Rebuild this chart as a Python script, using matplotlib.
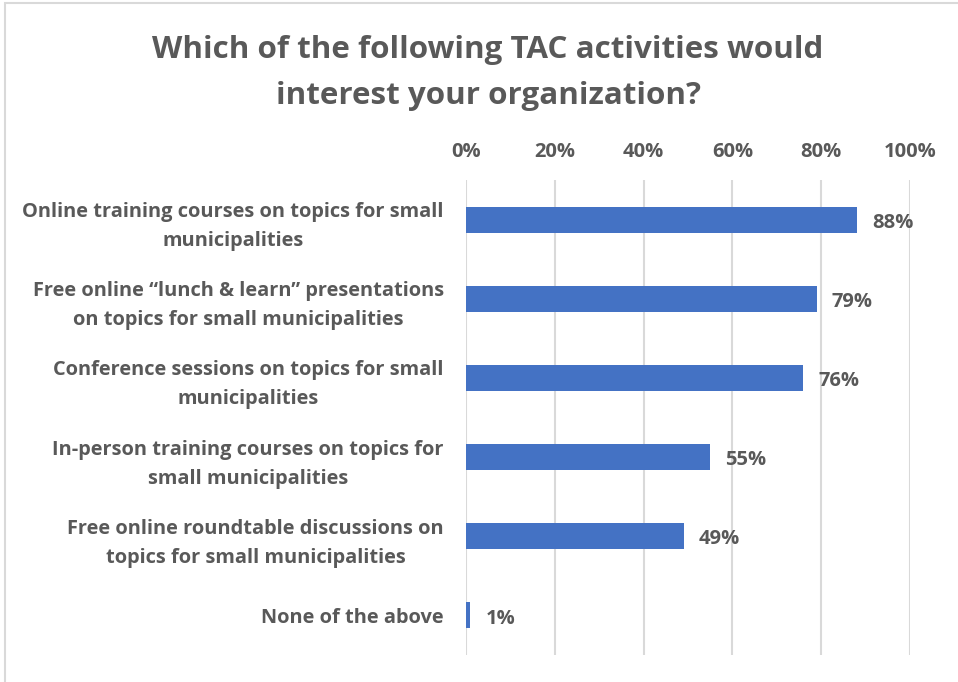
import matplotlib
matplotlib.use('Agg')
import matplotlib.pyplot as plt
from matplotlib.patches import Rectangle

categories = [
    "Online training courses on topics for small\nmunicipalities",
    "Free online \u201clunch & learn\u201d presentations\non topics for small municipalities",
    "Conference sessions on topics for small\nmunicipalities",
    "In-person training courses on topics for\nsmall municipalities",
    "Free online roundtable discussions on\ntopics for small municipalities",
    "None of the above",
]
values = [88, 79, 76, 55, 49, 1]
ticks = [0, 20, 40, 60, 80, 100]
tick_labels = ["0%", "20%", "40%", "60%", "80%", "100%"]

TXT = '#595959'
BAR = '#4472C4'
GRID = '#D9D9D9'

plt.rcParams['font.family'] = ['Open Sans', 'DejaVu Sans']

W, H = 958, 682
fig = plt.figure(figsize=(W / 100, H / 100), dpi=100)
fig.patch.set_facecolor('white')

# outer frame (chart border)
fig.patches.append(Rectangle((5 / W, -0.05), 1.2, 1 - 3 / H + 0.05,
                             transform=fig.transFigure, fill=False,
                             edgecolor='#D9D9D9', linewidth=1.5))

ax = fig.add_axes([466 / W, 1 - 655 / H, 444 / W, 475 / H])

y = list(range(len(values)))
ax.barh(y, values, height=0.33, color=BAR)
ax.set_ylim(len(values) - 0.5, -0.5)
ax.set_xlim(0, 100)

ax.xaxis.tick_top()
ax.set_xticks(ticks)
ax.set_xticklabels(tick_labels, fontsize=14.5, color=TXT, fontweight='bold')
ax.tick_params(axis='x', length=0, pad=13)
ax.set_yticks(y)
ax.set_yticklabels(categories, fontsize=14.4, color=TXT, fontweight='bold',
                   multialignment='center', linespacing=1.6)
ax.tick_params(axis='y', length=0, pad=16)

ax.grid(axis='x', color=GRID, linewidth=1.5)
ax.set_axisbelow(True)
for s in ax.spines.values():
    s.set_visible(False)

for i, v in enumerate(values):
    ax.text(v + 3.4, i + 0.04, f"{v}%", va='center', ha='left',
            fontsize=14.5, color=TXT, fontweight='bold')

fig.text(488 / W, 1 - 73 / H,
         "Which of the following TAC activities would\ninterest your organization?",
         ha='center', va='center', fontsize=22.6, color=TXT, fontweight='bold',
         linespacing=1.72)

fig.savefig('out.png', dpi=100)
